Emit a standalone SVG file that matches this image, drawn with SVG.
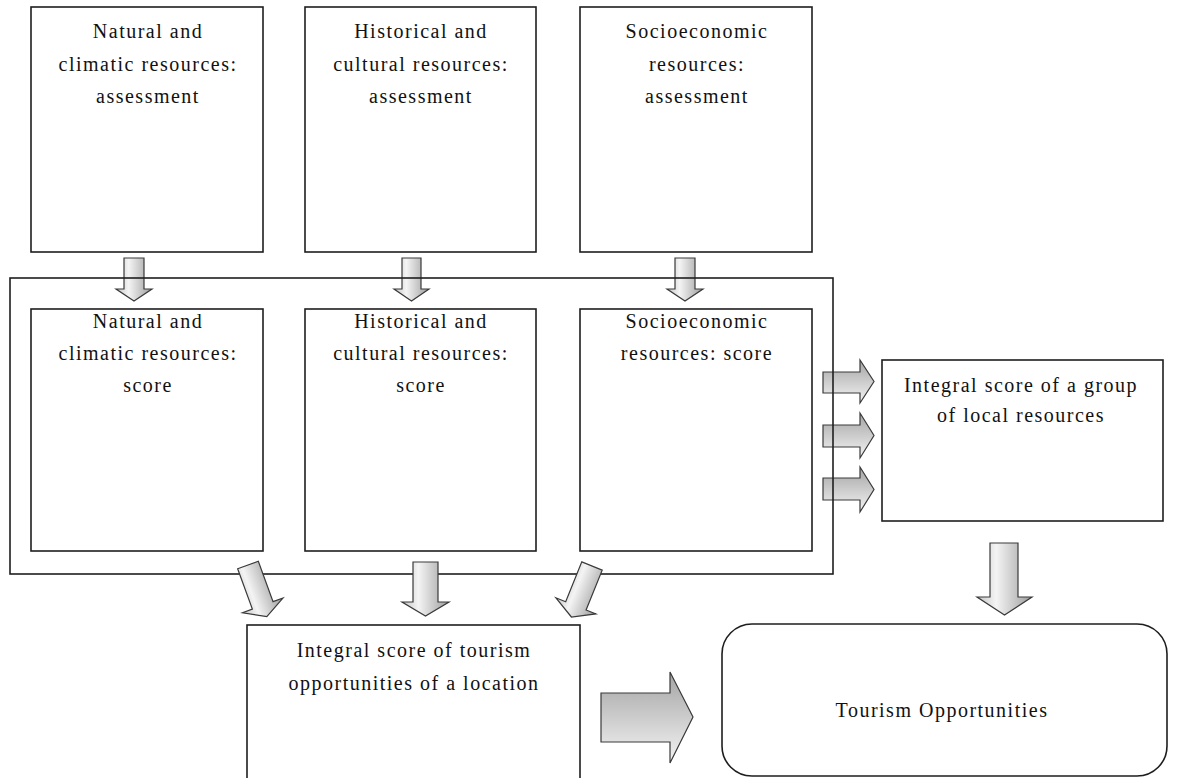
<svg xmlns="http://www.w3.org/2000/svg" width="1179" height="778" viewBox="0 0 1179 778">
<style>
  .box{fill:#fff;stroke:#1e1e1e;stroke-width:1.6}
  .frame{fill:none;stroke:#1e1e1e;stroke-width:1.6}
  .t{font-family:"Liberation Serif","Times New Roman",serif;font-size:20px;letter-spacing:1.5px;fill:#111;text-anchor:middle}
  .ad{fill:url(#gd);stroke:#3a3a3a;stroke-width:1.2;stroke-linejoin:miter}
  .ar{fill:url(#gr);stroke:#3a3a3a;stroke-width:1.2;stroke-linejoin:miter}
</style>
<defs>
  <linearGradient id="gd" x1="0" y1="0" x2="1" y2="0">
    <stop offset="0" stop-color="#c4c4c4"/>
    <stop offset="0.35" stop-color="#f4f4f4"/>
    <stop offset="1" stop-color="#9c9c9c"/>
  </linearGradient>
  <linearGradient id="gr" x1="0" y1="0" x2="0" y2="1">
    <stop offset="0" stop-color="#a4a4a4"/>
    <stop offset="1" stop-color="#f4f4f4"/>
  </linearGradient>
</defs>
<rect width="1179" height="778" fill="#fff"/>

<g id="n-top1"><rect class="box" x="31" y="7" width="232" height="245"/>
  <text class="t" x="148" y="38">Natural and</text><text class="t" x="148" y="71">climatic resources:</text><text class="t" x="148" y="103">assessment</text></g>
<g id="n-top2"><rect class="box" x="305" y="7" width="231" height="245"/>
  <text class="t" x="421" y="38">Historical and</text><text class="t" x="421" y="71">cultural resources:</text><text class="t" x="421" y="103">assessment</text></g>
<g id="n-top3"><rect class="box" x="580" y="7" width="232" height="245"/>
  <text class="t" x="697" y="38">Socioeconomic</text><text class="t" x="697" y="71">resources:</text><text class="t" x="697" y="103">assessment</text></g>

<g id="n-mid1"><rect class="box" x="31" y="309" width="232" height="242"/>
  <text class="t" x="148" y="328">Natural and</text><text class="t" x="148" y="360">climatic resources:</text><text class="t" x="148" y="392">score</text></g>
<g id="n-mid2"><rect class="box" x="305" y="309" width="231" height="242"/>
  <text class="t" x="421" y="328">Historical and</text><text class="t" x="421" y="360">cultural resources:</text><text class="t" x="421" y="392">score</text></g>
<g id="n-mid3"><rect class="box" x="580" y="309" width="232" height="242"/>
  <text class="t" x="697" y="328">Socioeconomic</text><text class="t" x="697" y="360">resources: score</text></g>

<g id="n-group"><rect class="box" x="882" y="360" width="281" height="161"/>
  <text class="t" x="1021" y="392">Integral score of a group</text><text class="t" x="1021" y="422">of local resources</text></g>

<g id="n-location"><rect class="box" x="247" y="625" width="333" height="170"/>
  <text class="t" x="414" y="657">Integral score of tourism</text><text class="t" x="414" y="690">opportunities of a location</text></g>

<g id="n-opps"><rect class="box" x="722" y="624" width="445" height="152" rx="30" ry="30"/>
  <text class="t" x="942" y="717">Tourism Opportunities</text></g>

<g id="connectors-in">
  <path class="ad" d="M124,258 H144 V289 H152 L134,301 L116,289 H124 Z"/>
  <path class="ad" d="M402,258 H421 V289 H429 L411.5,301 L394,289 H402 Z"/>
  <path class="ad" d="M675,258 H695 V289 H703 L685,301 L667,289 H675 Z"/>
  <path class="ar" d="M823,372 H860 V360 L874,381.5 L860,403 V393 H823 Z"/>
  <path class="ar" d="M823,425 H860 V413 L874,435.5 L860,458 V447 H823 Z"/>
  <path class="ar" d="M823,478 H860 V467 L874,489.5 L860,512 V500 H823 Z"/>
</g>

<g id="n-container"><rect class="frame" x="10" y="278" width="823" height="296"/></g>

<g id="connectors-out">
  <path class="ad" transform="translate(248,565) rotate(-20)" d="M-11,0 H11 V43 H21.5 L0,55 L-21.5,43 H-11 Z"/>
  <path class="ad" d="M413,562 H438 V602 H449 L425.5,616 L402,602 H413 Z"/>
  <path class="ad" transform="translate(592,566) rotate(22)" d="M-11,0 H11 V43 H21.5 L0,55 L-21.5,43 H-11 Z"/>
  <path class="ad" d="M990,543 H1018 V597 H1032 L1004.5,615 L977,597 H990 Z"/>
  <path class="ar" d="M601,693 H670 V672 L693,717 L670,763 V742 H601 Z"/>
</g>
</svg>
